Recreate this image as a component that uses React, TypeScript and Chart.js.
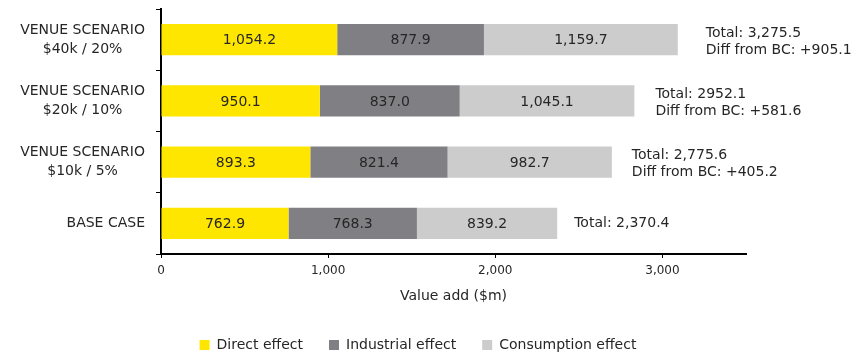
import React, { useEffect, useRef } from "react";
import { Chart, registerables } from "chart.js";

Chart.register(...registerables);

const categories: string[][] = [
  ["VENUE SCENARIO", "$40k / 20%"],
  ["VENUE SCENARIO", "$20k / 10%"],
  ["VENUE SCENARIO", "$10k / 5%"],
  ["BASE CASE"],
];
const directEffect = [1054.2, 950.1, 893.3, 762.9];
const industrialEffect = [877.9, 837.0, 821.4, 768.3];
const consumptionEffect = [1159.7, 1045.1, 982.7, 839.2];
const totalLabels = ["Total: 3,275.5", "Total: 2952.1", "Total: 2,775.6", "Total: 2,370.4"];
const diffLabels = ["Diff from BC: +905.1", "Diff from BC: +581.6", "Diff from BC: +405.2", ""];
const xTicks = [0, 1000, 2000, 3000];

const FONT = "'DejaVu Sans', Verdana, sans-serif";
const TEXT = "#262626";

const fmt = (v: number) =>
  v.toLocaleString("en-US", { minimumFractionDigits: 1, maximumFractionDigits: 1 });

const labelPlugin = {
  id: "barLabels",
  afterLayout(chart: any) {
    const lg = chart.legend;
    if (lg) {
      lg.left = 79;
      lg.right = 757;
    }
  },
  afterDatasetsDraw(chart: any) {
    const ctx = chart.ctx;
    ctx.save();
    ctx.font = `14px ${FONT}`;
    ctx.fillStyle = TEXT;
    ctx.textAlign = "center";
    ctx.textBaseline = "middle";
    chart.data.datasets.forEach((ds: any, di: number) => {
      const meta = chart.getDatasetMeta(di);
      meta.data.forEach((bar: any, i: number) => {
        const cx = (bar.x + bar.base) / 2;
        ctx.fillText(fmt(ds.data[i]), cx, bar.y + 1);
      });
    });
    const last = chart.getDatasetMeta(chart.data.datasets.length - 1);
    const offsets = [28, 21, 20, 17];
    ctx.textAlign = "left";
    last.data.forEach((bar: any, i: number) => {
      const x = bar.x + offsets[i];
      if (diffLabels[i]) {
        ctx.fillText(totalLabels[i], x, bar.y - 6.5);
        ctx.fillText(diffLabels[i], x, bar.y + 10.5);
      } else {
        ctx.fillText(totalLabels[i], x, bar.y);
      }
    });
    // category labels: block right-aligned, lines centered within block
    const yScale = chart.scales.y;
    const rightEdge = yScale.right - 16;
    const lineH = 19;
    ctx.textAlign = "center";
    categories.forEach((lines, i) => {
      const cy = yScale.getPixelForTick(i);
      let maxW = 0;
      lines.forEach((l) => (maxW = Math.max(maxW, ctx.measureText(l).width)));
      const cx = rightEdge - maxW / 2;
      const y0 = cy - ((lines.length - 1) * lineH) / 2;
      lines.forEach((l, k) => ctx.fillText(l, cx, y0 + k * lineH));
    });
    ctx.restore();
  },
};

export default function App() {
  const ref = useRef<HTMLCanvasElement>(null);
  useEffect(() => {
    if (!ref.current) return;
    const chart = new Chart(ref.current, {
      type: "bar",
      data: {
        labels: categories,
        datasets: [
          { label: "Direct effect", data: directEffect, backgroundColor: "#FFE600" },
          { label: "Industrial effect", data: industrialEffect, backgroundColor: "#807F84" },
          { label: "Consumption effect", data: consumptionEffect, backgroundColor: "#CCCCCC" },
        ],
      },
      options: {
        indexAxis: "y",
        responsive: false,
        animation: false,
        devicePixelRatio: 1,
        datasets: { bar: { categoryPercentage: 1, barPercentage: 0.51, borderWidth: 0 } },
        layout: { padding: { top: 9, right: 122, left: 0, bottom: -8 } },
        plugins: {
          tooltip: { enabled: false },
          legend: {
            position: "bottom",
            labels: {
              boxWidth: 10,
              boxHeight: 10,
              padding: 26,
              color: TEXT,
              font: { family: FONT, size: 14 },
            },
          },
        },
        scales: {
          x: {
            stacked: true,
            min: 0,
            max: 3500,
            afterBuildTicks: (scale: any) => {
              scale.ticks = xTicks.map((v) => ({ value: v }));
            },
            afterFit: (scale: any) => {
              scale.height = 58;
            },
            grid: { drawOnChartArea: false, tickLength: 4, color: "#000", lineWidth: 1 },
            border: { display: true, color: "#000", width: 2 },
            ticks: {
              color: TEXT,
              font: { family: FONT, size: 12 },
              padding: 6,
              maxRotation: 0,
              callback: (v: any) => Number(v).toLocaleString("en-US"),
            },
            title: {
              display: true,
              text: "Value add ($m)",
              color: TEXT,
              font: { family: FONT, size: 14 },
              padding: { top: 0, bottom: 7 },
            },
          },
          y: {
            stacked: true,
            offset: true,
            afterFit: (scale: any) => {
              scale.width = 161;
              scale.paddingTop = 0;
              scale.paddingBottom = 0;
            },
            grid: { offset: true, drawOnChartArea: false, tickLength: 5, color: "#000" },
            border: { display: true, color: "#000", width: 2 },
            ticks: {
              color: "rgba(0,0,0,0)",
              font: { family: FONT, size: 14, lineHeight: 1.36 },
              padding: 11,
            },
          },
        },
      },
      plugins: [labelPlugin],
    } as any);
    return () => chart.destroy();
  }, []);
  return (
    <div style={{ position: "fixed", left: 0, top: 0, width: 868, height: 354, background: "#fff" }}>
      <canvas ref={ref} width={868} height={354} />
    </div>
  );
}
